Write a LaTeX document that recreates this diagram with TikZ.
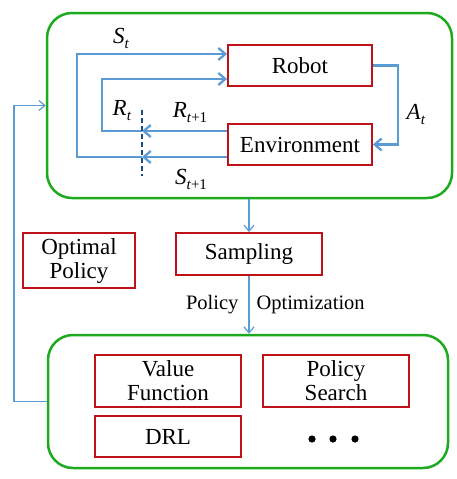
\documentclass[tikz,border=0pt]{standalone}
\usepackage{fontspec}
\setmainfont{Liberation Serif}
\usepackage{tikz}
\usetikzlibrary{arrows.meta}
\definecolor{boxred}{RGB}{192,16,24}
\definecolor{loopgreen}{RGB}{30,170,30}
\definecolor{flowblue}{RGB}{91,155,213}
\definecolor{cutblue}{RGB}{31,78,121}
\tikzstyle{redbox}=[draw=boxred, line width=1.8pt, fill=white, align=center, inner sep=0pt, font=\fontsize{23}{24}\selectfont]
\tikzstyle{greenbox}=[draw=loopgreen, line width=2.5pt, rounded corners=25pt, inner sep=0pt]
\tikzstyle{flow}=[draw=flowblue, line width=2.3pt, -{Straight Barb[length=7pt,width=12pt]}]
\tikzstyle{thinflow}=[draw=flowblue, line width=1.2pt, -{Straight Barb[length=6pt,width=10pt]}]
\tikzstyle{cut}=[draw=cutblue, line width=1.6pt, dash pattern=on 5pt off 3pt]
\tikzstyle{lbl}=[font=\fontsize{23}{24}\selectfont, inner sep=0pt]
\newcommand{\symb}[2]{\textit{#1}\raisebox{-5pt}{\fontsize{15}{15}\selectfont #2}}

\begin{document}
\begin{tikzpicture}[x=1pt,y=-1pt]
	\useasboundingbox (0,0) rectangle (457,479);
	\node[greenbox, minimum width=405pt, minimum height=185pt] (loop) at (249.5,105.5) {};
	\node[greenbox, minimum width=400pt, minimum height=133pt] (algo) at (248,401.5) {};
	\node[redbox, minimum width=144pt, minimum height=41pt] (robot) at (300,65.5) {Robot};
	\node[redbox, minimum width=144pt, minimum height=41pt] (env) at (300,144.5) {Environment};
	\node[redbox, minimum width=146pt, minimum height=42pt] (sampling) at (249,254) {Sampling};
	\node[redbox, minimum width=112pt, minimum height=55pt] (optimal) at (79,260.5) {Optimal\\Policy};
	\node[redbox, minimum width=146pt, minimum height=52pt] (value) at (168,381) {Value\\Function};
	\node[redbox, minimum width=146pt, minimum height=52pt] (search) at (336,381) {Policy\\Search};
	\node[redbox, minimum width=146pt, minimum height=41pt] (drl) at (168,436.5) {DRL};
	\foreach \x in {312,333,355}
		\fill (\x,439) circle (3.6);
	% agent loop
	\coordinate (outer) at (77,54);
	\coordinate (inner) at (102,79);
	\coordinate (cutT) at (142,110);
	\coordinate (cutB) at (142,176);
	\coordinate (act) at (398,0);
	\draw[flow] (robot.east) -- (robot.east -| act) |- (env.east);
	\draw[flow] ([yshift=13.5pt]env.west) -- ([yshift=13.5pt]env.west -| cutT);
	\draw[flow] ([yshift=-12.5pt]env.west) -- ([yshift=-12.5pt]env.west -| cutT);
	\draw[flow] ([yshift=13.5pt]env.west -| cutT) -| (inner) -- (inner -| robot.west);
	\draw[flow] ([yshift=-12.5pt]env.west -| cutT) -| (outer) -- (outer -| robot.west);
	\draw[cut] (cutT) -- (cutB);
	\node[lbl] at (121,38) {\symb{S}{\textit{t}}};
	\node[lbl] at (122,111) {\symb{R}{\textit{t}}};
	\node[lbl] at (190,113) {\symb{R}{\textit{t}+1}};
	\node[lbl] at (416,114) {\symb{A}{\textit{t}}};
	\node[lbl] at (191,179) {\symb{S}{\textit{t}+1}};
	% between the boxes
	\coordinate (fb) at (14,0);
	\draw[thinflow] (sampling.north |- loop.south) -- (sampling.north);
	\draw[thinflow] (sampling.south) -- (sampling.south |- algo.north);
	\draw[thinflow] (algo.west) -- (algo.west -| fb) |- (loop.west);
	\node[font=\fontsize{20.5}{22}\selectfont, anchor=east] at (242,305) {Policy};
	\node[font=\fontsize{20.5}{22}\selectfont, anchor=west] at (253,305) {Optimization};
\end{tikzpicture}
\end{document}
